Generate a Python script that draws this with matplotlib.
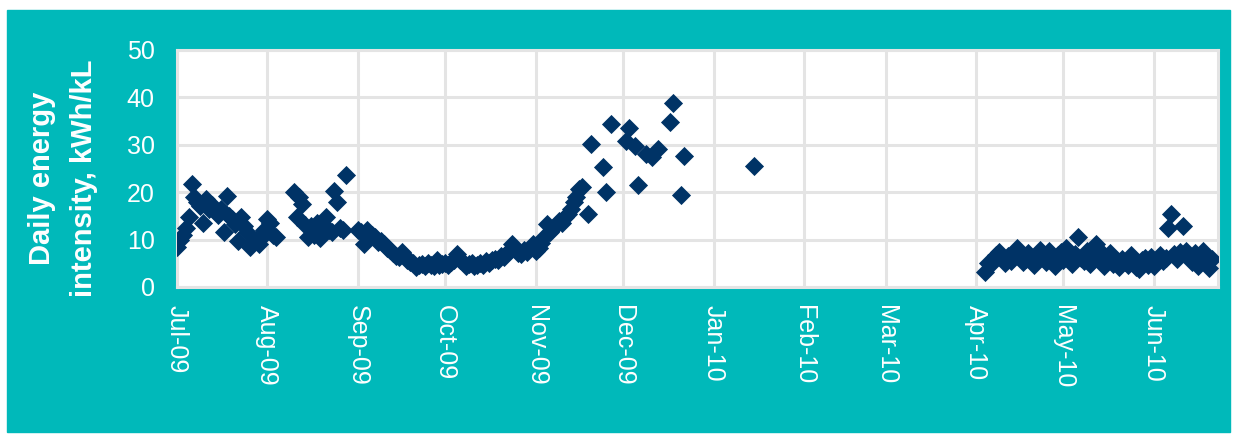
import pandas as pd
import matplotlib.pyplot as plt
import matplotlib.dates as mdates
from matplotlib.patches import Rectangle

plt.rcParams["font.family"] = ["Liberation Sans", "DejaVu Sans"]

# daily readings, consecutive days from each start date
jul_start = "2009-07-01"
jul_vals = [8.5, 10.0, 11.0, 12.5, 14.7, 21.7, 18.9, 17.9, 17.0, 13.6, 18.5, 16.5,
            17.4, 16.0, 15.2, 16.4, 11.5, 19.1, 14.9, 14.3, 13.2, 9.6, 14.7, 12.8,
            11.5, 8.5, 9.5, 10.0, 9.0, 10.6, 12.1, 14.3, 13.5, 11.0, 10.6]

aug_start = "2009-08-10"
aug_vals = [20.0, 14.7, 19.0, 17.5, 13.0, 10.5, 12.8, 11.0, 13.5, 10.4, 11.5,
            14.7, 12.0, 11.5, 20.2, 17.9, 12.5, 12.0, 23.6]

autumn_start = "2009-09-01"
autumn_vals = [12.0, 11.7, 9.0, 12.0, 10.5, 11.0, 10.6, 9.4, 9.6, 9.0, 8.3, 7.9,
               7.2, 6.5, 6.4, 7.4, 6.8, 5.7, 5.3, 5.1, 4.3, 4.6, 4.8, 4.4, 5.0,
               4.7, 4.5, 5.7, 4.6, 4.9,
               5.0, 4.6, 5.3, 5.6, 7.0, 5.8, 5.2, 4.5, 4.8, 5.0, 4.4, 4.7, 5.1,
               4.6, 5.4, 5.0, 5.6, 6.0, 5.8, 6.6, 6.3, 7.2, 7.6, 9.0, 8.0, 7.2,
               6.9, 7.8, 7.3, 8.2, 9.0,
               7.5, 8.3, 9.2, 10.5, 13.2, 11.5, 12.5, 13.0, 14.0, 13.5, 14.8,
               15.5, 16.5, 18.0, 19.0, 20.6, 21.1]

summer_dates = ["2009-11-19", "2009-11-20", "2009-11-24", "2009-11-25", "2009-11-27",
                "2009-12-02", "2009-12-03", "2009-12-05", "2009-12-06", "2009-12-09",
                "2009-12-11", "2009-12-13", "2009-12-17", "2009-12-18", "2009-12-21",
                "2009-12-22", "2010-01-15"]
summer_vals = [15.3, 30.2, 25.3, 20.0, 34.3, 30.9, 33.6, 29.8, 21.5, 28.1, 27.4,
               29.1, 34.9, 38.9, 19.4, 27.7, 25.5]

spring_start = "2010-04-04"
spring_vals = [3.2, 5.1, 4.8, 5.6, 6.8, 7.4, 6.2, 5.0, 6.5, 5.5, 7.0, 8.3, 6.6, 5.3,
               6.0, 7.2, 5.8, 4.6, 6.3, 7.8, 6.9, 5.2, 7.5, 6.0, 4.4, 6.8, 7.4,
               5.8, 8.2, 6.5, 4.9, 7.0, 10.5, 6.2, 5.5, 7.6, 4.8, 6.4, 9.0, 8.0,
               5.6, 4.5, 6.3, 7.2, 4.9, 5.8, 4.3, 6.0, 5.2, 4.6, 6.8, 5.5, 4.2,
               3.9, 5.6, 6.1, 4.7, 6.3,
               4.5, 5.9, 6.8, 5.5, 6.2, 12.5, 15.5, 7.0, 6.0, 7.3, 12.8, 7.5, 6.6,
               5.2, 7.2, 4.4, 6.5, 7.6, 5.4, 4.0, 6.0]

dates = []
vals = []
for start, v in [(jul_start, jul_vals), (aug_start, aug_vals),
                 (autumn_start, autumn_vals), (spring_start, spring_vals)]:
    dates += list(pd.date_range(start, periods=len(v), freq="D"))
    vals += v
dates += list(pd.to_datetime(summer_dates))
vals += summer_vals

teal = "#00B9BA"
navy = "#003366"
grid = "#E4E4E4"

fig = plt.figure(figsize=(12.33, 4.36), dpi=100)
fig.patches.append(Rectangle((7 / 1233, 0.01), 1223 / 1233, 1 - 10 / 436 - 0.01,
                             transform=fig.transFigure, color=teal, zorder=-5))

ax = fig.add_axes([177 / 1233, 1 - 287 / 436, 1041 / 1233, 237 / 436])
ax.set_zorder(2)
ax.scatter(dates, vals, marker="D", s=95, color=navy, zorder=3, linewidths=0)

ax.set_ylim(0, 50)
ax.set_yticks(range(0, 51, 10))
ax.set_xlim(pd.Timestamp("2009-07-01"), pd.Timestamp("2010-06-23"))
ax.xaxis.set_major_locator(mdates.MonthLocator())
ax.xaxis.set_major_formatter(mdates.DateFormatter("%b-%y"))

ax.grid(True, color=grid, linewidth=2.2, zorder=0)
ax.set_axisbelow(True)
for s in ax.spines.values():
    s.set_color(grid)
    s.set_linewidth(2.2)

ax.tick_params(axis="both", length=0, labelcolor="white", labelsize=18)
ax.tick_params(axis="y", pad=16)
ax.tick_params(axis="x", pad=13)
plt.setp(ax.get_xticklabels(), rotation=270, ha="center", va="top")

fig.text(63 / 1233, 1 - 178 / 436, "Daily energy\nintensity, kWh/kL", rotation=90,
         ha="center", va="center", multialignment="center", color="white",
         fontsize=21, fontweight="bold", linespacing=1.6, zorder=3)

fig.savefig("out.png", dpi=100)
